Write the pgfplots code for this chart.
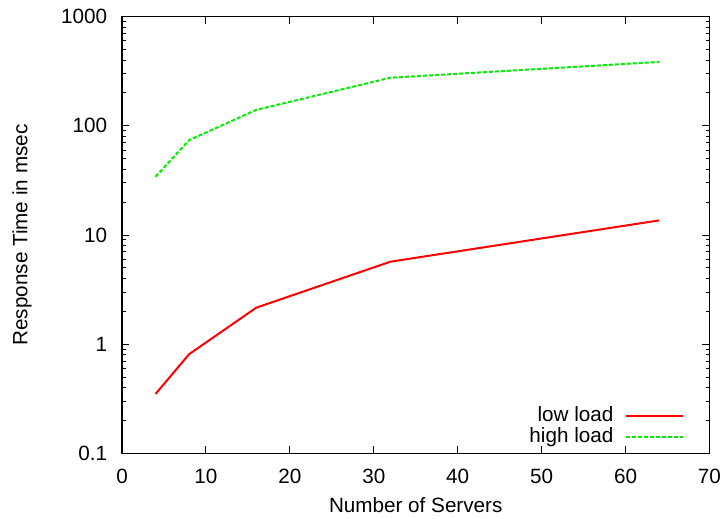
\documentclass[border=0pt]{standalone}
\usepackage{fontspec}
\setmainfont{Liberation Sans}
\usepackage{pgfplots}
\pgfplotsset{compat=1.18}
\begin{document}
\begin{tikzpicture}
\begin{axis}[name=ax, scale only axis, width=440.6pt, height=327.5pt,
  ymode=log, xmin=0, xmax=70, ymin=0.1, ymax=1000,
  xtick={0,10,...,70},
  ytick={0.1,1,10,100,1000}, yticklabels={0.1,1,10,100,1000},
  tick align=inside, major tick length=5.25pt, minor tick length=2.8pt,
  every tick/.style={black, line width=0.75pt},
  axis line style={line width=1pt},
  font=\fontsize{15.5}{18}\selectfont,
  /pgf/number format/assume math mode=true,
  xticklabel style={anchor=center, yshift=-17.3pt, inner sep=0pt},
  yticklabel style={anchor=east, xshift=-11pt, inner sep=0pt},
  xlabel={Number of Servers}, ylabel={Response Time in msec},
  xlabel style={at={(axis description cs:0.5,-0.1191)}, anchor=center},
  ylabel style={at={(axis description cs:-0.1702,0.5)}, anchor=center},
  legend cell align=right, legend plot pos=right,
  legend style={at={(axis description cs:0.9634,0.0094)}, anchor=south east,
    draw=none, fill=none, row sep=1.75pt, column sep=8.5pt,
    nodes={inner sep=0pt, text height=11pt, text depth=3pt}},
  legend image code/.code={\draw[#1] (0pt,0pt) -- (42.75pt,0pt);},
]
\addplot[red, line width=1.5pt] coordinates {(4,0.35) (8,0.81) (16,2.16) (32,5.7) (64,13.6)};
\addlegendentry{low load}
\addplot[color={rgb,255:red,0;green,240;blue,0}, line width=1.5pt, dash pattern=on 3pt off 1.5pt] coordinates {(4,34.2) (8,74) (16,140) (32,276) (64,385)};
\addlegendentry{high load}
\end{axis}
\pgfresetboundingbox
\path[use as bounding box] ([xshift=-91.5pt,yshift=-48.5pt]ax.south west) rectangle ([xshift=10.9pt,yshift=12.5pt]ax.north east);
\end{tikzpicture}
\end{document}
